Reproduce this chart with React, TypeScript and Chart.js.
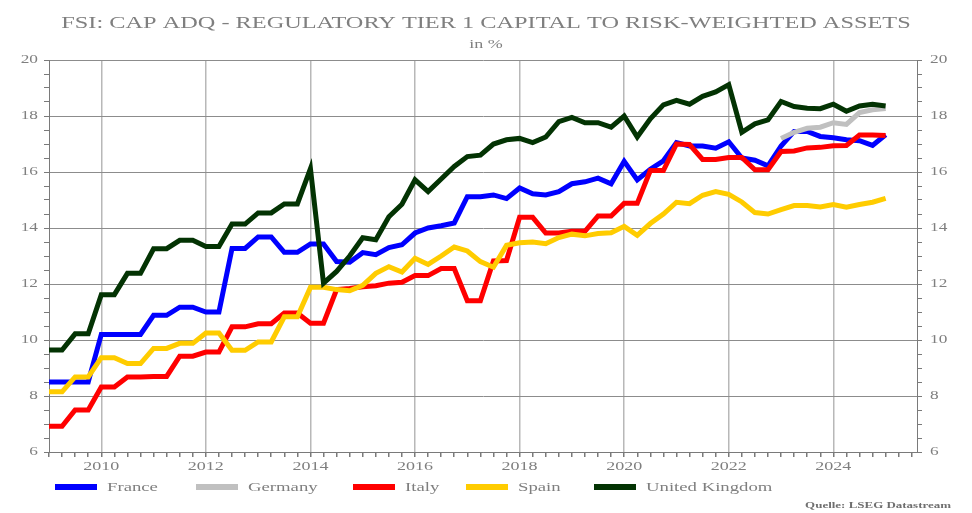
import React, { useEffect, useRef } from "react";
import { Chart, registerables } from "chart.js";

Chart.register(...registerables);

const TITLE = "FSI: CAP ADQ - REGULATORY TIER 1 CAPITAL TO RISK-WEIGHTED ASSETS";
const SUBTITLE = "in %";
const SOURCE = "Quelle: LSEG Datastream";

// Quarterly observations, Q4 2008 ... Q4 2024
const quarterLabels: string[] = [];
for (let y = 2008; y <= 2024; y++) {
  for (let q = 1; q <= 4; q++) {
    if (y > 2008 || q === 4) quarterLabels.push(`${y} Q${q}`);
  }
}
const quarterX = quarterLabels.map((l) => {
  const [y, q] = l.split(" Q");
  return Number(y) + Number(q) * 0.25;
});

const xTickYears = [2010, 2012, 2014, 2016, 2018, 2020, 2022, 2024];
const yTickValues = [6, 8, 10, 12, 14, 16, 18, 20];

const seriesNames = ["France", "Germany", "Italy", "Spain", "United Kingdom"];
const seriesColors = ["#0000ff", "#c0c0c0", "#ff0000", "#ffcc00", "#033303"];

const france = [
  8.5, 8.5, 8.5, 8.5, 10.2, 10.2, 10.2, 10.2, 10.88, 10.88,
  11.17, 11.17, 11.0, 11.0, 13.27, 13.27, 13.68, 13.68, 13.13, 13.13,
  13.43, 13.43, 12.8, 12.78, 13.12, 13.05, 13.3, 13.4, 13.82, 14.0,
  14.08, 14.18, 15.12, 15.12, 15.18, 15.05, 15.43, 15.22, 15.18, 15.3,
  15.58, 15.65, 15.78, 15.58, 16.38, 15.72, 16.1, 16.4, 17.05, 16.93,
  16.93, 16.85, 17.08, 16.5, 16.42, 16.22, 16.93, 17.45, 17.45, 17.27,
  17.22, 17.15, 17.12, 16.95, 17.33,
];

const germany: (number | null)[] = [
  null, null, null, null, null, null, null, null, null, null,
  null, null, null, null, null, null, null, null, null, null,
  null, null, null, null, null, null, null, null, null, null,
  null, null, null, null, null, null, null, null, null, null,
  null, null, null, null, null, null, null, null, null, null,
  null, null, null, null, null, null, 17.2, 17.42, 17.56, 17.6,
  17.76, 17.7, 18.12, 18.22, 18.27,
];

const italy = [
  6.92, 6.92, 7.5, 7.5, 8.32, 8.32, 8.68, 8.68, 8.7, 8.7,
  9.42, 9.42, 9.57, 9.57, 10.47, 10.47, 10.58, 10.58, 10.96, 10.96,
  10.6, 10.6, 11.8, 11.84, 11.9, 11.94, 12.03, 12.06, 12.3, 12.3,
  12.55, 12.55, 11.4, 11.4, 12.82, 12.84, 14.38, 14.38, 13.82, 13.82,
  13.88, 13.88, 14.43, 14.43, 14.88, 14.88, 16.05, 16.05, 17.0, 16.98,
  16.45, 16.45, 16.52, 16.52, 16.08, 16.08, 16.73, 16.75, 16.86, 16.88,
  16.94, 16.95, 17.32, 17.32, 17.3,
];

const spain = [
  8.15, 8.15, 8.68, 8.68, 9.37, 9.37, 9.16, 9.16, 9.7, 9.7,
  9.88, 9.88, 10.25, 10.25, 9.63, 9.63, 9.93, 9.93, 10.83, 10.83,
  11.88, 11.88, 11.8, 11.76, 11.95, 12.38, 12.62, 12.43, 12.92, 12.7,
  13.0, 13.32, 13.18, 12.8, 12.6, 13.38, 13.47, 13.5, 13.44, 13.66,
  13.78, 13.72, 13.8, 13.83, 14.06, 13.74, 14.16, 14.5, 14.92, 14.87,
  15.17, 15.3, 15.2, 14.93, 14.55, 14.5, 14.66, 14.8, 14.8, 14.75,
  14.84, 14.74, 14.84, 14.92, 15.06,
];

const unitedKingdom = [
  9.64, 9.64, 10.22, 10.22, 11.62, 11.62, 12.38, 12.38, 13.26, 13.26,
  13.56, 13.56, 13.34, 13.34, 14.14, 14.14, 14.54, 14.54, 14.86, 14.86,
  16.12, 12.03, 12.45, 13.0, 13.65, 13.58, 14.4, 14.85, 15.72, 15.3,
  15.75, 16.2, 16.55, 16.6, 17.0, 17.15, 17.2, 17.05, 17.25, 17.8,
  17.95, 17.76, 17.76, 17.6, 18.0, 17.25, 17.9, 18.4, 18.56, 18.42,
  18.7, 18.86, 19.12, 17.42, 17.72, 17.86, 18.52, 18.34, 18.28, 18.26,
  18.42, 18.17, 18.36, 18.42, 18.36,
];

const seriesValues = [france, germany, italy, spain, unitedKingdom];

const TEXT_COLOR = "#7f7f7f";
const SERIF = '"Liberation Serif", "Times New Roman", serif';
const STRETCH = 1.44;

function stretchedText(
  ctx: CanvasRenderingContext2D,
  text: string,
  x: number,
  y: number,
  font: string,
  align: CanvasTextAlign,
  baseline: CanvasTextBaseline,
  color: string,
  stretch: number = STRETCH
) {
  ctx.save();
  ctx.font = font;
  ctx.fillStyle = color;
  ctx.textAlign = align;
  ctx.textBaseline = baseline;
  ctx.translate(x, y);
  ctx.scale(stretch, 1);
  ctx.fillText(text, 0, 0);
  ctx.restore();
}

const legendStarts = [55, 196, 353, 466, 594];

const decorPlugin = {
  id: "decor",
  afterDraw(chart: any) {
    const ctx: CanvasRenderingContext2D = chart.ctx;
    const xs = chart.scales.x;
    const yl = chart.scales.yLeft;
    const yr = chart.scales.yRight;

    stretchedText(ctx, TITLE, 486, 28, `16.6px ${SERIF}`, "center", "alphabetic", TEXT_COLOR, 1.465);
    stretchedText(ctx, SUBTITLE, 486, 48, `12.5px ${SERIF}`, "center", "alphabetic", TEXT_COLOR);

    for (const v of yTickValues) {
      const py = yl.getPixelForValue(v);
      stretchedText(ctx, String(v), yl.right - 11, py, `12px ${SERIF}`, "right", "middle", TEXT_COLOR);
      const pr = yr.getPixelForValue(v);
      stretchedText(ctx, String(v), yr.left + 13, pr, `12px ${SERIF}`, "left", "middle", TEXT_COLOR);
    }
    for (const yv of xTickYears) {
      const px = xs.getPixelForValue(yv);
      stretchedText(ctx, String(yv), px, 470, `12.5px ${SERIF}`, "center", "alphabetic", TEXT_COLOR);
    }

    chart.data.datasets.forEach((ds: any, i: number) => {
      const x0 = legendStarts[i];
      ctx.save();
      ctx.strokeStyle = ds.borderColor;
      ctx.lineWidth = 6;
      ctx.beginPath();
      ctx.moveTo(x0, 487);
      ctx.lineTo(x0 + 42, 487);
      ctx.stroke();
      ctx.restore();
      stretchedText(ctx, ds.label, x0 + 52, 491, `13px ${SERIF}`, "left", "alphabetic", TEXT_COLOR);
    });

    stretchedText(ctx, SOURCE, 951, 508, `bold 9px ${SERIF}`, "right", "alphabetic", "#6f6f6f");
  },
};

const quarterTicks = quarterX.concat([2025.25, 2025.5]);
const halfTicks: number[] = [];
for (let v = 6; v <= 20; v += 0.5) halfTicks.push(v);

const isEven = (v: number) => Math.abs(v - Math.round(v)) < 1e-6 && Math.round(v) % 2 === 0;

export default function App() {
  const ref = useRef<HTMLCanvasElement>(null);

  useEffect(() => {
    const canvas = ref.current;
    if (!canvas) return;
    const datasets = seriesNames.map((name, i) => ({
      label: name,
      data: seriesValues[i].map((v, j) => ({ x: quarterX[j], y: v })),
      xAxisID: "x",
      yAxisID: "yLeft",
      borderColor: seriesColors[i],
      backgroundColor: seriesColors[i],
      borderWidth: 5,
      pointRadius: 0,
      tension: 0,
      spanGaps: false,
      order: seriesNames.length - i,
    }));

    const chart = new Chart(canvas, {
      type: "line",
      data: { datasets },
      plugins: [decorPlugin],
      options: {
        animation: false,
        responsive: false,
        devicePixelRatio: 1,
        layout: { padding: { top: 60, bottom: 0, left: 0, right: 0 } },
        plugins: {
          legend: { display: false },
          title: { display: false },
          tooltip: { enabled: false },
        },
        scales: {
          x: {
            type: "linear",
            min: 2009,
            max: 2025.6,
            afterBuildTicks: (scale: any) => {
              scale.ticks = quarterTicks.map((v) => ({ value: v }));
            },
            afterFit: (scale: any) => {
              scale.height = 61;
            },
            ticks: { display: false },
            border: { display: true, color: "#7a7a7a", width: 1 },
            grid: {
              drawTicks: true,
              tickLength: 5,
              tickColor: "#7a7a7a",
              lineWidth: 1.5,
              color: (c: any) => (c.tick && isEven(c.tick.value) ? "#b8b8b8" : "rgba(0,0,0,0)"),
            },
          },
          yLeft: {
            type: "linear",
            position: "left",
            min: 6,
            max: 20,
            afterBuildTicks: (scale: any) => {
              scale.ticks = halfTicks.map((v) => ({ value: v }));
            },
            afterFit: (scale: any) => {
              scale.width = 49;
            },
            ticks: { display: false },
            border: { display: true, color: "#7a7a7a", width: 1 },
            grid: {
              drawTicks: true,
              tickLength: 5,
              tickColor: "#7a7a7a",
              lineWidth: 1,
              color: (c: any) => (c.tick && isEven(c.tick.value) ? "#8c8c8c" : "rgba(0,0,0,0)"),
            },
          },
          yRight: {
            type: "linear",
            position: "right",
            min: 6,
            max: 20,
            afterBuildTicks: (scale: any) => {
              scale.ticks = halfTicks.map((v) => ({ value: v }));
            },
            afterFit: (scale: any) => {
              scale.width = 55;
            },
            ticks: { display: false },
            border: { display: true, color: "#7a7a7a", width: 1 },
            grid: {
              drawOnChartArea: false,
              drawTicks: true,
              tickLength: 5,
              tickColor: "#7a7a7a",
            },
          },
        },
      } as any,
    });
    return () => chart.destroy();
  }, []);

  return (
    <div style={{ position: "absolute", left: 0, top: 0, width: 972, height: 513, background: "#ffffff" }}>
      <canvas ref={ref} width={972} height={513} style={{ width: 972, height: 513, display: "block" }} />
    </div>
  );
}
